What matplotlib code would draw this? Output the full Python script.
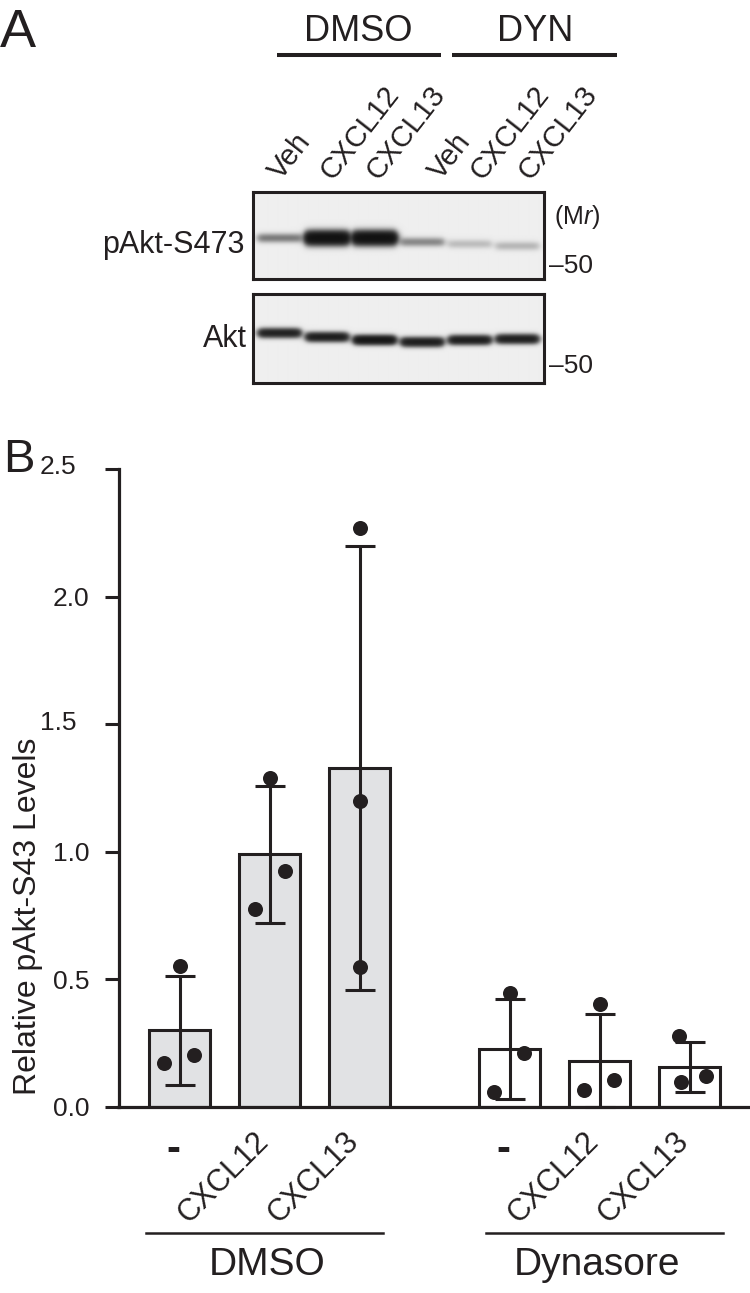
import numpy as np
import matplotlib.pyplot as plt
from matplotlib import font_manager
from matplotlib.transforms import blended_transform_factory, ScaledTranslation

# ---- data ------------------------------------------------------------------
lanes = ['Veh', 'CXCL12', 'CXCL13', 'Veh', 'CXCL12', 'CXCL13']
blot_groups = ['DMSO', 'DYN']
pakt_band = [0.20, 1.00, 1.00, 0.17, 0.07, 0.08]   # band strength, pAkt-S473
akt_band = [0.65, 0.70, 0.85, 0.70, 0.70, 0.68]    # band strength, total Akt

treatments = ['-', 'CXCL12', 'CXCL13']
groups = ['DMSO', 'Dynasore']
dmso_mean = [0.30, 0.99, 1.33]
dmso_sd = [0.213, 0.268, 0.87]
dmso_points = [[0.174, 0.204, 0.551], [0.776, 0.925, 1.29], [0.549, 1.20, 2.27]]
dyn_mean = [0.228, 0.182, 0.157]
dyn_sd = [0.196, 0.183, 0.097]
dyn_points = [[0.060, 0.210, 0.445], [0.067, 0.106, 0.404], [0.099, 0.121, 0.278]]

# ---- style -----------------------------------------------------------------
names = {f.name for f in font_manager.fontManager.ttflist}
narrow = 'Liberation Sans Narrow' if 'Liberation Sans Narrow' in names else 'Liberation Sans'
plt.rcParams['font.family'] = ['Liberation Sans', 'DejaVu Sans']
plt.rcParams['font.style'] = 'normal'
plt.rcParams['mathtext.fontset'] = 'custom'
plt.rcParams['mathtext.rm'] = 'Liberation Sans'
plt.rcParams['mathtext.it'] = 'Liberation Sans:italic'
ink = '#231f20'
W, H = 750, 1293

fig = plt.figure(figsize=(W / 100, H / 100), dpi=100)

# overlay in pixel coordinates for panel A annotations
ov = fig.add_axes([0, 0, 1, 1])
ov.set_xlim(0, W)
ov.set_ylim(H, 0)
ov.axis('off')
ov.patch.set_visible(False)


def box(x0, y0, x1, y1):
    return [x0 / W, 1 - y1 / H, (x1 - x0) / W, (y1 - y0) / H]


# ---- panel A: blots ----------------------------------------------------------
def blot(rect, strength, ypos, sig, width):
    ax = fig.add_axes(rect)
    hpx = rect[3] * H
    xs = np.linspace(-0.55, 5.55, 320)
    ys = np.arange(int(hpx)) + 0.5
    X, Y = np.meshgrid(xs, ys)
    dens = np.zeros_like(X)
    for i, (a, y0) in enumerate(zip(strength, ypos)):
        hx = 1 / (1 + np.exp((np.abs(X - i) - width / 2) / 0.04))
        s = sig * (1.5 if a > 0.9 else 1.0)
        dens += a * hx * np.exp(-0.5 * ((Y - y0) / s) ** 2)
    dark = 1 - np.exp(-3.5 * dens)
    img = 0.935 - 0.89 * dark
    ax.imshow(img, cmap='gray', vmin=0, vmax=1, aspect='auto',
              extent=(-0.55, 5.55, hpx, 0), interpolation='bilinear')
    ax.set_xticks([])
    ax.set_yticks([])
    for sp in ax.spines.values():
        sp.set_linewidth(2.2)
        sp.set_color(ink)
    return ax


blot(box(253, 192, 544, 279), pakt_band, [46, 46, 46, 50, 52, 54], 3.0, 0.9)
blot(box(253, 294, 544, 383), akt_band, [39, 43, 46, 48, 46, 45], 3.0, 0.86)

ov.text(0, 47, 'A', fontsize=39, color=ink, ha='left', va='baseline')
for name, cx, (x0, x1) in zip(blot_groups, [358, 535], [(277, 441), (452, 617)]):
    ov.text(cx, 41, name, fontsize=26, color=ink, ha='center', va='baseline')
    ov.plot([x0, x1], [55, 55], color=ink, lw=2.9, solid_capstyle='butt')
for lab, lx in zip(lanes, [281, 332, 378, 441, 483, 531]):
    ov.text(lx, 181, lab, fontsize=21, color=ink, rotation=52,
            rotation_mode='anchor', ha='left', va='baseline')
ov.text(245, 253, 'pAkt-S473', fontsize=22, color=ink, ha='right', va='baseline')
ov.text(247, 347, 'Akt', fontsize=22, color=ink, ha='right', va='baseline')
ov.text(554, 217, '(M$\\mathit{r}$)', fontsize=18, color=ink, ha='left', va='center')
ov.text(549, 273, '\u201350', fontsize=19, color=ink, ha='left', va='baseline')
ov.text(549, 373, '\u201350', fontsize=19, color=ink, ha='left', va='baseline')

# ---- panel B: bar chart ------------------------------------------------------
ax = fig.add_axes(box(118.5, 469, 750, 1107))
gap = 1.667
xpos = [np.arange(3) + g * (3 + gap - 1) for g in range(2)]
jitter = [[-0.17, 0.16, 0.0], [-0.16, 0.17, 0.0], [0.0, 0.0, 0.0],
          [-0.17, 0.16, 0.0], [-0.17, 0.16, 0.0], [-0.095, 0.18, -0.12]]
faces = ['#e1e2e4', 'white']

for g, (means, sds, pts) in enumerate([(dmso_mean, dmso_sd, dmso_points),
                                       (dyn_mean, dyn_sd, dyn_points)]):
    x = xpos[g]
    ax.bar(x, means, width=0.678, color=faces[g], edgecolor=ink,
           linewidth=2.2, zorder=2)
    ax.errorbar(x, means, yerr=sds, fmt='none', ecolor=ink, elinewidth=2.2,
                capsize=10.8, capthick=2.2, zorder=3, clip_on=False)
    for i in range(3):
        jx = x[i] + np.array(jitter[g * 3 + i])
        ax.scatter(jx, pts[i], s=117, color=ink, zorder=4, clip_on=False,
                   linewidths=0)

ax.set_xlim(-0.678, xpos[1][2] + 0.672)
ax.set_ylim(0, 2.5)
ax.set_yticks([0, 0.5, 1.0, 1.5, 2.0, 2.5])
ax.set_yticklabels(['0.0', '0.5', '1.0', '1.5', '2.0', '2.5'],
                   fontfamily=narrow)
ax.set_xticks([])
ax.tick_params(axis='y', length=10, width=2.2, color=ink, labelsize=19,
               labelcolor=ink, pad=11)
for side in ['top', 'right']:
    ax.spines[side].set_visible(False)
for side in ['left', 'bottom']:
    ax.spines[side].set_linewidth(2.3)
    ax.spines[side].set_color(ink)
ax.patch.set_visible(False)

# odd offset of two tick labels in the original
for lab in ax.get_yticklabels():
    if lab.get_text() in ('1.5', '2.5'):
        lab.set_transform(lab.get_transform() +
                          ScaledTranslation(-0.13, 0.04, fig.dpi_scale_trans))

fig.text(28 / W, 1 - 916 / H, 'Relative pAkt-S43 Levels', fontsize=23,
         color=ink, rotation=90, ha='center', va='center')
fig.text(3 / W, 1 - 472 / H, 'B', fontsize=34, color=ink, ha='left',
         va='baseline')

tr = blended_transform_factory(ax.transData, fig.transFigure)
line_ext = [(-0.37, 0.26), (-0.26, 0.37)]
for g, grp in enumerate(groups):
    x = xpos[g]
    for i, t in enumerate(treatments):
        if t == '-':
            ax.text(x[i] - 0.07, 1 - 1150 / H, '-', transform=tr, fontsize=30,
                    fontweight='bold', color=ink, ha='center', va='center')
        else:
            ax.text(x[i] + 0.06, 1 - 1126 / H, t, transform=tr, fontsize=22,
                    color=ink, rotation=45, ha='right', va='top')
    ax.plot([x[0] + line_ext[g][0], x[2] + line_ext[g][1]], [1 - 1233 / H] * 2,
            transform=tr, color=ink, lw=1.8, clip_on=False)
    ax.text(x[1] - 0.03, 1 - 1265 / H, grp, transform=tr, fontsize=28,
            color=ink, ha='center', va='center')

fig.savefig('out.png', dpi=100)
